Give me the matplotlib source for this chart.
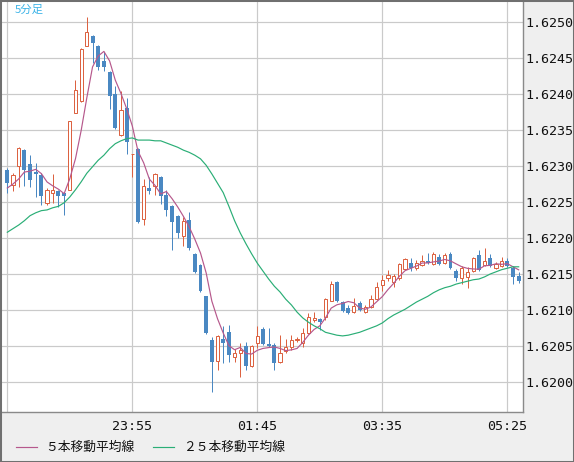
#!/usr/bin/env python3
# 5-minute candles with 5 / 25 bar moving averages

import matplotlib
matplotlib.use("Agg")
import matplotlib.pyplot as plt
from matplotlib.lines import Line2D
from matplotlib.patches import Rectangle
import numpy as np
import pandas as pd

start_time = "2024-01-01 22:05"

opens = [
    1.62294, 1.62274, 1.62300, 1.62322, 1.62303, 1.62292, 1.62288, 1.62249, 1.62263, 1.62265,
    1.62263, 1.62267, 1.62374, 1.62390, 1.62467, 1.62481, 1.62467, 1.62446, 1.62431, 1.62400,
    1.62343, 1.62381, 1.62316, 1.62324, 1.62226, 1.62269, 1.62272, 1.62285, 1.62260, 1.62244,
    1.62231, 1.62203, 1.62225, 1.62178, 1.62163, 1.62119, 1.62058, 1.62029, 1.62060, 1.62069,
    1.62035, 1.62040, 1.62050, 1.62022, 1.62054, 1.62074, 1.62053, 1.62051, 1.62028, 1.62043,
    1.62049, 1.62058, 1.62054, 1.62068, 1.62086, 1.62088, 1.62090, 1.62113, 1.62139, 1.62111,
    1.62103, 1.62097, 1.62110, 1.62097, 1.62104, 1.62115, 1.62135, 1.62144, 1.62139, 1.62144,
    1.62157, 1.62165, 1.62158, 1.62163, 1.62168, 1.62164, 1.62174, 1.62165, 1.62178, 1.62154,
    1.62144, 1.62146, 1.62154, 1.62176, 1.62163, 1.62172, 1.62158, 1.62161, 1.62168, 1.62158,
    1.62147,
]
highs = [
    1.62297, 1.62290, 1.62326, 1.62324, 1.62315, 1.62304, 1.62290, 1.62269, 1.62289, 1.62267,
    1.62264, 1.62363, 1.62419, 1.62464, 1.62507, 1.62482, 1.62468, 1.62458, 1.62432, 1.62411,
    1.62404, 1.62394, 1.62317, 1.62325, 1.62282, 1.62285, 1.62290, 1.62286, 1.62267, 1.62246,
    1.62232, 1.62229, 1.62236, 1.62179, 1.62164, 1.62120, 1.62063, 1.62065, 1.62078, 1.62079,
    1.62046, 1.62054, 1.62056, 1.62051, 1.62078, 1.62076, 1.62075, 1.62054, 1.62065, 1.62060,
    1.62065, 1.62063, 1.62075, 1.62096, 1.62097, 1.62089, 1.62117, 1.62140, 1.62140, 1.62113,
    1.62107, 1.62117, 1.62113, 1.62107, 1.62121, 1.62139, 1.62149, 1.62156, 1.62150, 1.62165,
    1.62172, 1.62172, 1.62169, 1.62176, 1.62179, 1.62181, 1.62178, 1.62179, 1.62181, 1.62157,
    1.62161, 1.62160, 1.62174, 1.62183, 1.62186, 1.62178, 1.62167, 1.62174, 1.62172, 1.62161,
    1.62153,
]
lows = [
    1.62263, 1.62265, 1.62271, 1.62272, 1.62271, 1.62257, 1.62246, 1.62246, 1.62249, 1.62243,
    1.62232, 1.62266, 1.62373, 1.62389, 1.62466, 1.62443, 1.62433, 1.62432, 1.62379, 1.62351,
    1.62342, 1.62317, 1.62285, 1.62221, 1.62218, 1.62261, 1.62260, 1.62247, 1.62231, 1.62183,
    1.62200, 1.62189, 1.62183, 1.62151, 1.62125, 1.62067, 1.61986, 1.62017, 1.62026, 1.62028,
    1.62028, 1.62007, 1.62017, 1.62021, 1.62047, 1.62051, 1.62049, 1.62017, 1.62026, 1.62040,
    1.62044, 1.62056, 1.62049, 1.62067, 1.62083, 1.62072, 1.62086, 1.62112, 1.62111, 1.62097,
    1.62094, 1.62096, 1.62099, 1.62096, 1.62103, 1.62114, 1.62126, 1.62140, 1.62132, 1.62142,
    1.62156, 1.62154, 1.62156, 1.62161, 1.62164, 1.62163, 1.62163, 1.62164, 1.62157, 1.62140,
    1.62136, 1.62131, 1.62153, 1.62154, 1.62161, 1.62160, 1.62157, 1.62160, 1.62160, 1.62136,
    1.62138,
]
closes = [
    1.62276, 1.62288, 1.62325, 1.62294, 1.62281, 1.62289, 1.62258, 1.62267, 1.62267, 1.62258,
    1.62258, 1.62362, 1.62406, 1.62463, 1.62486, 1.62471, 1.62438, 1.62438, 1.62397, 1.62353,
    1.62378, 1.62333, 1.62317, 1.62222, 1.62272, 1.62265, 1.62289, 1.62258, 1.62239, 1.62222,
    1.62207, 1.62224, 1.62186, 1.62153, 1.62126, 1.62068, 1.62028, 1.62064, 1.62054, 1.62038,
    1.62040, 1.62044, 1.62022, 1.62050, 1.62064, 1.62053, 1.62050, 1.62026, 1.62040, 1.62049,
    1.62058, 1.62060, 1.62068, 1.62090, 1.62089, 1.62083, 1.62115, 1.62136, 1.62113, 1.62099,
    1.62096, 1.62106, 1.62100, 1.62104, 1.62115, 1.62132, 1.62142, 1.62149, 1.62147, 1.62164,
    1.62171, 1.62158, 1.62165, 1.62168, 1.62165, 1.62178, 1.62164, 1.62176, 1.62158, 1.62144,
    1.62158, 1.62153, 1.62172, 1.62156, 1.62168, 1.62161, 1.62164, 1.62168, 1.62161, 1.62146,
    1.62140,
]
# closes of the four bars before the window (for the 5-bar average)
prev_closes = [1.62260, 1.62290, 1.62246, 1.62275]

ma25 = [
    1.62208, 1.62213, 1.62218, 1.62224, 1.62231, 1.62235, 1.62238, 1.62239, 1.62242, 1.62244,
    1.62249, 1.62257, 1.62267, 1.62278, 1.62290, 1.62299, 1.62308, 1.62315, 1.62324, 1.62331,
    1.62335, 1.62338, 1.62339, 1.62336, 1.62336, 1.62336, 1.62335, 1.62335, 1.62332, 1.62329,
    1.62326, 1.62322, 1.62319, 1.62315, 1.62310, 1.62301, 1.62289, 1.62276, 1.62263, 1.62244,
    1.62224, 1.62207, 1.62192, 1.62178, 1.62165, 1.62154, 1.62143, 1.62133, 1.62125, 1.62115,
    1.62107, 1.62097, 1.62089, 1.62083, 1.62078, 1.62074, 1.62069, 1.62067, 1.62065, 1.62064,
    1.62065, 1.62067, 1.62069, 1.62072, 1.62075, 1.62078, 1.62082, 1.62088, 1.62093, 1.62097,
    1.62101, 1.62106, 1.62111, 1.62115, 1.62119, 1.62124, 1.62128, 1.62131, 1.62133, 1.62136,
    1.62138, 1.62140, 1.62142, 1.62143, 1.62146, 1.62150, 1.62153, 1.62156, 1.62158, 1.62160,
    1.62160,
]

price_ticks = [1.6200, 1.6205, 1.6210, 1.6215, 1.6220, 1.6225, 1.6230, 1.6235, 1.6240, 1.6245, 1.6250]
grid_times = ["22:05", "23:55", "01:45", "03:35", "05:25"]
label_times = ["23:55", "01:45", "03:35", "05:25"]

RED = "#dc6241"
BLUE = "#4a88c2"
PINK = "#b6588c"
GREEN = "#2aae76"
GRID = "#cacaca"
PANEL = "#efefef"

W, H = 574, 462
PX = 0.72  # one pixel in points at dpi 100


def plot(ax):
    o = np.array(opens)
    h = np.array(highs)
    lo = np.array(lows)
    c = np.array(closes)
    x = np.arange(len(o))
    up = c >= o

    times = pd.date_range(start_time, periods=len(o), freq="5min").strftime("%H:%M").tolist()

    # wicks
    ax.vlines(x, lo, h, colors=np.where(up, RED, BLUE), linewidth=PX, zorder=3)
    # bodies
    ax.bar(x[~up], (o - c)[~up], bottom=c[~up], width=0.7, color=BLUE,
           linewidth=0, zorder=4)
    ax.bar(x[up], np.maximum((c - o)[up], 0.00001), bottom=o[up], width=0.56,
           facecolor="white", edgecolor=RED, linewidth=PX, zorder=4)

    ma5 = pd.Series(prev_closes + closes).rolling(5).mean().to_numpy()[len(prev_closes):]
    ax.plot(x, ma5, color=PINK, linewidth=0.85, zorder=5)
    ax.plot(x, ma25, color=GREEN, linewidth=0.85, zorder=5)

    ax.set_xlim(-1.11, 90.76)
    ax.set_ylim(1.619583, 1.625292)

    ax.set_xticks([times.index(t) for t in grid_times])
    ax.set_xticklabels([t if t in label_times else "" for t in grid_times])
    ax.set_yticks(price_ticks)
    ax.set_yticklabels([f"{p:.4f}" for p in price_ticks])
    ax.yaxis.tick_right()
    ax.tick_params(length=0, labelsize=9.6, colors="#111111")
    ax.tick_params(axis="x", pad=6)
    ax.tick_params(axis="y", pad=2)
    for lab in ax.get_xticklabels() + ax.get_yticklabels():
        lab.set_fontfamily("DejaVu Sans Mono")

    ax.grid(True, color=GRID, linewidth=PX * 1.2, zorder=0)
    ax.set_axisbelow(True)

    for side in ["left", "top"]:
        ax.spines[side].set_visible(False)
    for side in ["right", "bottom"]:
        ax.spines[side].set_color("#8a8a8a")
        ax.spines[side].set_linewidth(PX * 1.4)

    ax.text(14 / 522, 1 - 9 / 411, "5分足", transform=ax.transAxes, color="#3db4e8",
            fontsize=8.2, va="center", ha="left", family=["Noto Sans CJK JP", "DejaVu Sans"])


def main():
    fig = plt.figure(figsize=(W / 100, H / 100), dpi=100, facecolor=PANEL)
    ax = fig.add_axes([1 / W, 50 / H, 522 / W, 411 / H], facecolor="white")
    plot(ax)

    cjk = ["Noto Sans CJK JP", "DejaVu Sans"]
    ly = 1 - 447 / H
    fig.add_artist(Line2D([16 / W, 37 / W], [ly, ly], color=PINK, linewidth=0.85))
    fig.text(45 / W, ly, "５本移動平均線", va="center", ha="left", fontsize=9.2,
             family=cjk, color="#111111")
    fig.add_artist(Line2D([153 / W, 174 / W], [ly, ly], color=GREEN, linewidth=0.85))
    fig.text(183 / W, ly, "２５本移動平均線", va="center", ha="left", fontsize=9.2,
             family=cjk, color="#111111")

    fig.add_artist(Rectangle((0, 0), 1, 1, transform=fig.transFigure, fill=False,
                             edgecolor="#707070", linewidth=2.2))

    fig.savefig("out.png", dpi=100, facecolor=PANEL)


if __name__ == "__main__":
    main()
